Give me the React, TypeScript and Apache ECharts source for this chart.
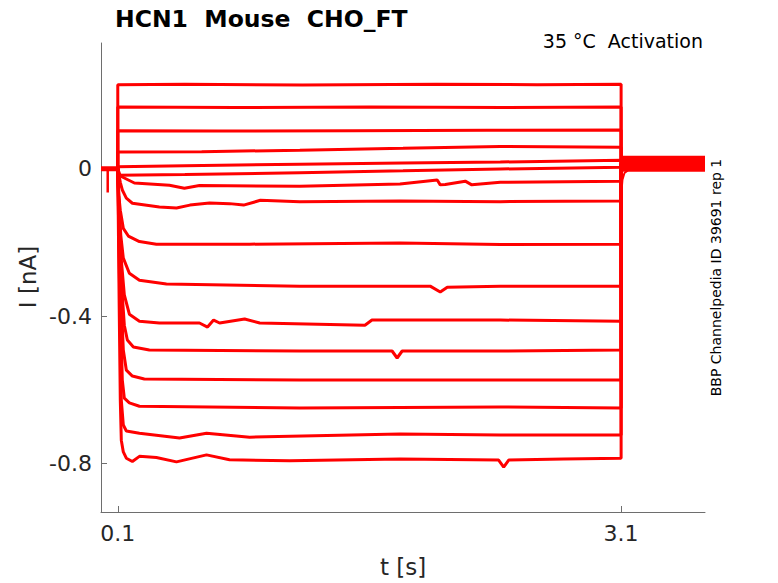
import React, { useEffect, useRef } from "react";
import * as echarts from "echarts";

// Axis ticks
const xTicks = [0.1, 3.1];
const yTicks = [-0.8, -0.4, 0];

// Holding segment before the step (t in s, I in nA)
const holding: number[][] = [[0, 0], [0.1, 0]];
const holdingSpike: number[][] = [[0.04, 0], [0.04, -0.065]];

// Step traces
const trace1: number[][] = [[0.1, 0], [0.1, 0.228], [0.5, 0.229], [1.2, 0.227], [2.0, 0.229], [2.6, 0.228], [3.1, 0.229], [3.1, 0.013]];
const trace2: number[][] = [[0.1, 0], [0.1, 0.167], [0.8, 0.166], [1.6, 0.167], [2.4, 0.166], [3.1, 0.167], [3.1, 0.013]];
const trace3: number[][] = [[0.1, 0], [0.1, 0.103], [0.7, 0.102], [1.5, 0.103], [2.3, 0.104], [3.1, 0.105], [3.1, 0.013]];
const trace4: number[][] = [[0.1, 0], [0.1, 0.045], [0.6, 0.046], [1.185, 0.05], [1.8, 0.055], [2.38, 0.06], [3.1, 0.058], [3.1, 0.013]];
const trace5: number[][] = [[0.1, 0], [0.1, 0.005], [0.5, 0.008], [1.185, 0.012], [1.8, 0.015], [2.38, 0.018], [3.1, 0.023], [3.1, 0.013]];
const trace6: number[][] = [[0.1, 0], [0.1, -0.018], [0.5, -0.016], [1.185, -0.011], [1.8, -0.006], [2.38, -0.001], [3.1, 0.004], [3.1, 0.013]];
const trace7: number[][] = [[0.1, 0], [0.115, -0.02], [0.199, -0.039], [0.408, -0.045], [0.497, -0.053], [0.587, -0.046], [1.185, -0.0475], [1.782, -0.042], [2.004, -0.031], [2.022, -0.044], [2.052, -0.043], [2.171, -0.034], [2.21, -0.044], [2.38, -0.037], [3.1, -0.034], [3.1, 0.013]];
const trace8: number[][] = [[0.1, 0], [0.115, -0.037], [0.127, -0.058], [0.151, -0.08], [0.187, -0.094], [0.348, -0.104], [0.45, -0.107], [0.53, -0.099], [0.647, -0.093], [0.766, -0.095], [0.85, -0.099], [0.95, -0.086], [1.185, -0.0896], [1.782, -0.088], [2.38, -0.0896], [3.1, -0.088], [3.1, 0.013]];
const trace9: number[][] = [[0.1, 0], [0.106, -0.072], [0.115, -0.113], [0.133, -0.162], [0.163, -0.183], [0.229, -0.198], [0.33, -0.205], [0.886, -0.205], [1.782, -0.202], [2.38, -0.206], [3.1, -0.205], [3.1, 0.013]];
const trace10: number[][] = [[0.1, 0], [0.106, -0.085], [0.118, -0.181], [0.133, -0.243], [0.169, -0.284], [0.229, -0.303], [0.39, -0.313], [1.185, -0.319], [1.962, -0.319], [2.022, -0.335], [2.064, -0.322], [2.38, -0.319], [3.1, -0.319], [3.1, 0.013]];
const trace11: number[][] = [[0.1, 0], [0.109, -0.113], [0.121, -0.248], [0.139, -0.343], [0.169, -0.395], [0.229, -0.414], [0.348, -0.419], [0.587, -0.419], [0.635, -0.43], [0.671, -0.411], [0.707, -0.419], [0.856, -0.408], [0.946, -0.419], [1.573, -0.425], [1.615, -0.411], [2.38, -0.411], [3.1, -0.414], [3.1, 0.013]];
const trace12: number[][] = [[0.1, 0], [0.109, -0.14], [0.121, -0.303], [0.139, -0.425], [0.157, -0.465], [0.193, -0.484], [0.288, -0.4925], [1.185, -0.495], [1.735, -0.495], [1.765, -0.514], [1.795, -0.495], [2.38, -0.495], [3.1, -0.4925], [3.1, 0.013]];
const trace13: number[][] = [[0.1, 0], [0.109, -0.167], [0.118, -0.33], [0.133, -0.4925], [0.151, -0.547], [0.187, -0.563], [0.258, -0.571], [1.185, -0.574], [2.38, -0.574], [3.1, -0.574], [3.1, 0.013]];
const trace14: number[][] = [[0.1, 0], [0.109, -0.221], [0.115, -0.357], [0.127, -0.574], [0.139, -0.623], [0.169, -0.636], [0.229, -0.645], [1.185, -0.65], [2.38, -0.647], [3.1, -0.65], [3.1, 0.013]];
const trace15: number[][] = [[0.1, 0], [0.109, -0.275], [0.112, -0.357], [0.121, -0.628], [0.133, -0.696], [0.151, -0.712], [0.229, -0.718], [0.468, -0.731], [0.629, -0.718], [0.886, -0.729], [1.782, -0.72], [2.38, -0.723], [3.1, -0.723], [3.1, 0.013]];
const trace16: number[][] = [[0.1, 0], [0.108, -0.357], [0.115, -0.628], [0.121, -0.737], [0.133, -0.769], [0.151, -0.786], [0.187, -0.795], [0.229, -0.781], [0.33, -0.784], [0.45, -0.796], [0.629, -0.777], [0.766, -0.79], [1.125, -0.793], [1.782, -0.788], [2.37, -0.791], [2.4, -0.81], [2.43, -0.791], [2.758, -0.788], [3.1, -0.786], [3.1, 0.013]];

const traces = [trace1, trace2, trace3, trace4, trace5, trace6, trace7, trace8, trace9, trace10, trace11, trace12, trace13, trace14, trace15, trace16];

// Tail after the step (noisy band) and its capacitive spike
const tailBand: number[][] = [[3.1, 0.013], [3.6, 0.013]];
const tailSpike: number[][] = [[3.1, 0.013], [3.103, -0.058], [3.108, -0.03], [3.12, -0.012], [3.14, -0.005]];

const RED = "#ff0000";
const FONT = "DejaVu Sans";

export default function App() {
  const ref = useRef<HTMLDivElement>(null);
  useEffect(() => {
    if (!ref.current) return;
    const chart = echarts.init(ref.current, undefined, { renderer: "svg" });
    const lineSeries = (data: number[][], width: number, z = 2) => ({
      type: "line",
      data,
      symbol: "none",
      showSymbol: false,
      lineStyle: { color: RED, width, cap: "butt" },
      itemStyle: { color: RED },
      z,
    });
    chart.setOption({
      animation: false,
      backgroundColor: "#ffffff",
      grid: { left: 101, right: 73, top: 43, bottom: 71 },
      xAxis: {
        type: "value",
        min: 0,
        max: 3.6,
        axisLine: { onZero: false, lineStyle: { color: "#6e6e6e", width: 1 } },
        axisTick: { inside: true, length: 6, customValues: xTicks, lineStyle: { color: "#6e6e6e" } },
        axisLabel: { customValues: xTicks, fontSize: 22, color: "#262626", margin: 10, fontFamily: FONT, formatter: (v: number) => String(v) },
        splitLine: { show: false },
      },
      yAxis: {
        type: "value",
        min: -0.932,
        max: 0.341,
        axisLine: { show: true, onZero: false, lineStyle: { color: "#6e6e6e", width: 1 } },
        axisTick: { show: true, inside: true, length: 6, customValues: yTicks, lineStyle: { color: "#6e6e6e" } },
        axisLabel: { customValues: yTicks, fontSize: 22, color: "#262626", margin: 9, fontFamily: FONT, formatter: (v: number) => String(v) },
        splitLine: { show: false },
      },
      series: [
        lineSeries(holding, 5),
        lineSeries(holdingSpike, 2.5),
        ...traces.map((t) => lineSeries(t, 3)),
        lineSeries(tailBand, 16),
        lineSeries(tailSpike, 2),
      ],
      graphic: [
        { type: "text", x: 115, y: 18.5, style: { text: "HCN1  Mouse  CHO_FT", fontSize: 23.5, fontWeight: "bold", fontFamily: FONT, fill: "#000000", align: "left", verticalAlign: "middle" } },
        { type: "text", x: 703, y: 40.5, style: { text: "35 °C  Activation", fontSize: 19, fontFamily: FONT, fill: "#000000", align: "right", verticalAlign: "middle" } },
        { type: "text", x: 716, y: 277.5, rotation: Math.PI / 2, style: { text: "BBP Channelpedia ID 39691 rep 1", fontSize: 14, fontFamily: FONT, fill: "#000000", align: "center", verticalAlign: "middle" } },
        { type: "text", x: 28, y: 277, rotation: Math.PI / 2, style: { text: "I [nA]", fontSize: 23, fontFamily: FONT, fill: "#262626", align: "center", verticalAlign: "middle" } },
        { type: "text", x: 403, y: 567, style: { text: "t [s]", fontSize: 23, fontFamily: FONT, fill: "#262626", align: "center", verticalAlign: "middle" } },
      ],
    });
    return () => chart.dispose();
  }, []);
  return <div ref={ref} style={{ position: "fixed", left: 0, top: 0, width: 778, height: 583, background: "#fff" }} />;
}
